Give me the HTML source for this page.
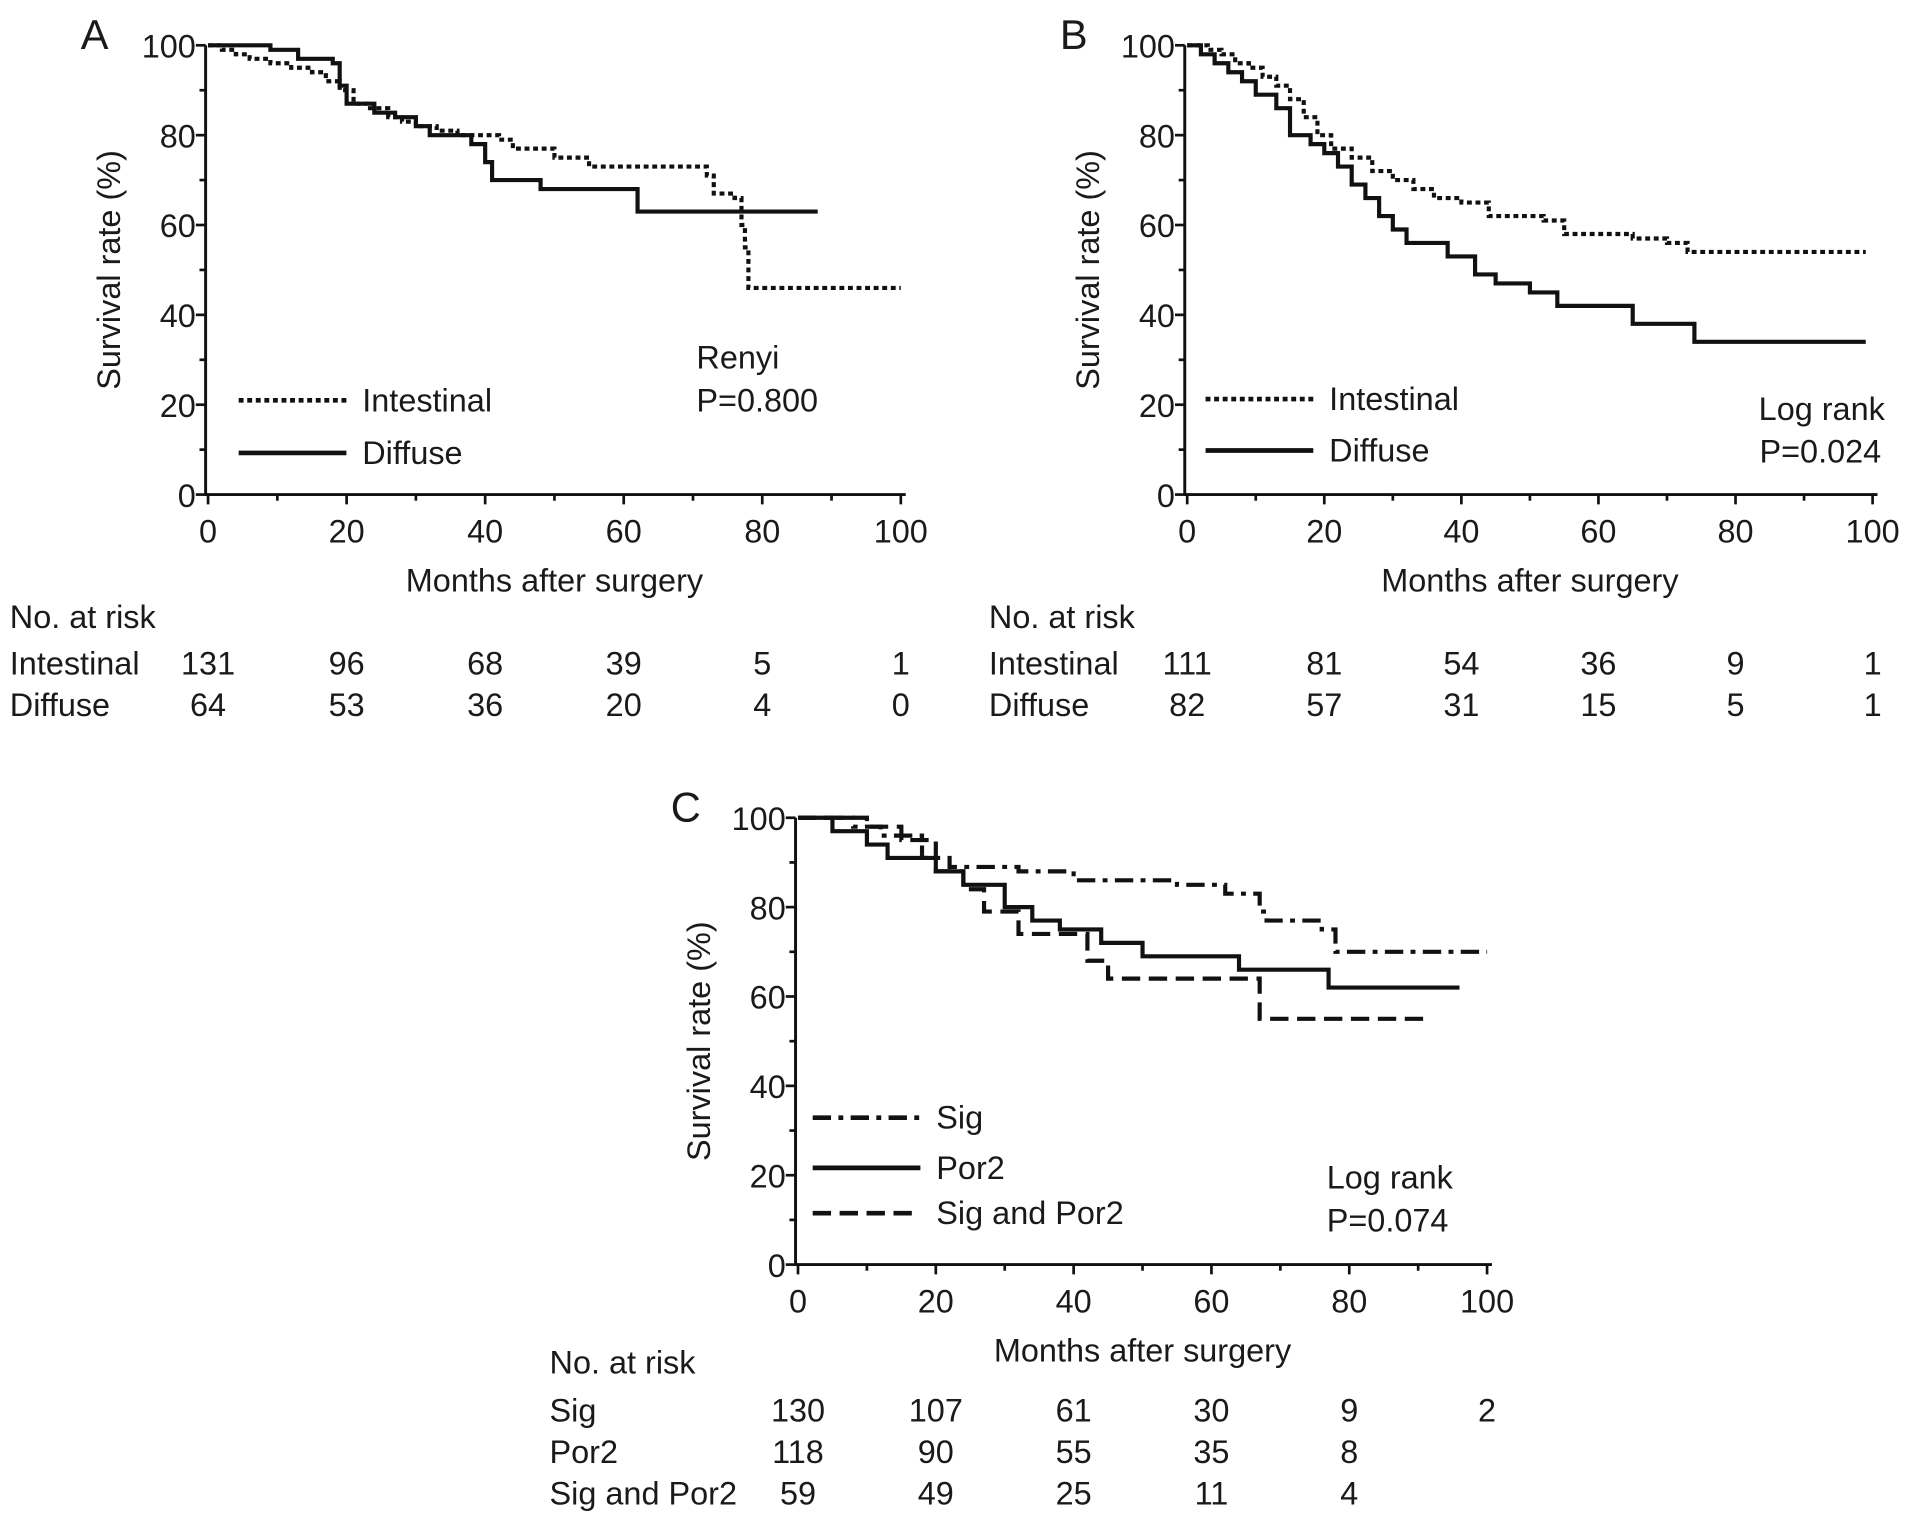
<!DOCTYPE html>
<html><head><meta charset="utf-8">
<style>
html,body{margin:0;padding:0;background:#fff;}
svg{display:block;}
text{font-family:"Liberation Sans",Arial,sans-serif;fill:#1a1a1a;}
</style></head>
<body>
<svg id="fig" width="1913" height="1518" viewBox="0 0 1563 1240" preserveAspectRatio="none" xmlns="http://www.w3.org/2000/svg"></svg>
<script>
// Panel A data
const aIntT=[0,2,4,6,9,12,15,17,19,21,23,26,28,30,33,36,42,44,48,50,55,72,73,76,77,77.5,78,100];
const aIntS=[100,99,98,97,96,95,94,92,90,87,86,84,83,82,81,80,79,77,77,75,73,71,67,66,60,55,46,46];
const aDifT=[0,9,13,18,19,20,24,27,30,32,38,40,41,48,62,88];
const aDifS=[100,99,97,96,91,87,85,84,82,80,78,74,70,68,63,63];
// Panel B data
const bIntT=[0,3,5,7,9,11,13,15,17,19,21,24,27,30,33,36,40,44,48,52,55,60,65,70,73,99];
const bIntS=[100,99,98,96,95,93,91,88,84,80,77,75,72,70,68,66,65,62,62,61,58,58,57,56,54,54];
const bDifT=[0,2,4,6,8,10,13,15,18,20,22,24,26,28,30,32,35,38,42,45,50,54,60,65,74,99];
const bDifS=[100,98,96,94,92,89,86,80,78,76,73,69,66,62,59,56,56,53,49,47,45,42,42,38,34,34];
// Panel C data
const cSigT=[0,8,12,18,22,32,40,50,55,62,67,68,76,78,100];
const cSigS=[100,98,96,91,89,88,86,86,85,83,79,77,75,70,70];
const cPorT=[0,5,10,13,20,24,30,34,38,44,50,64,77,96];
const cPorS=[100,97,94,91,88,85,80,77,75,72,69,66,62,62];
const cBothT=[0,10,15,20,24,27,32,42,45,67,91];
const cBothS=[100,98,95,88,84,79,74,68,64,55,55];
const xTicks=[0,20,40,60,80,100];
const yTicks=[0,20,40,60,80,100];
const riskA1=[131,96,68,39,5,1], riskA2=[64,53,36,20,4,0];
const riskB1=[111,81,54,36,9,1], riskB2=[82,57,31,15,5,1];
const riskC1=[130,107,61,30,9,2], riskC2=[118,90,55,35,8], riskC3=[59,49,25,11,4];

const FS=26.5;
const NS="http://www.w3.org/2000/svg";
const svg=document.getElementById('fig');
function el(tag,attrs,parent){const e=document.createElementNS(NS,tag);for(const k in attrs)e.setAttribute(k,attrs[k]);(parent||svg).appendChild(e);return e;}
function txt(s,x,y,anchor,size,parent){const t=el('text',{x:x,y:y,'text-anchor':anchor||'start','font-size':size||FS},parent);t.textContent=s;return t;}

function panel(id,x0,x1,y0,y1,letter){
  const g=el('g',{});
  
  
  const X=v=>x0+(x1-x0)*v/100, Y=v=>y0-(y0-y1)*v/100;
  const ax=el('path',{d:`M${x0-2},${Y(100)}V${y0}H${X(100)+4}`,stroke:'#111','stroke-width':2.4,fill:'none'},g);
  
  for(let v=0;v<=100;v+=10){
    const big=v%20===0;
    el('line',{x1:X(v),x2:X(v),y1:y0,y2:y0+(big?8:5),stroke:'#111','stroke-width':2.2},g);
    el('line',{x1:x0-2,x2:x0-(big?10:7),y1:Y(v),y2:Y(v),stroke:'#111','stroke-width':2.2},g);
  }
  xTicks.forEach(v=>{const t=txt(String(v),X(v),y0+39,'middle',FS,g);});
  yTicks.forEach(v=>{const t=txt(String(v),x0-10,Y(v)+10,'end',FS,g);});
  const yt=txt('Survival rate (%)',0,0,'middle',FS,g);
  yt.setAttribute('transform',`translate(${x0-72},${(y0+Y(100))/2}) rotate(-90)`);
  
  const xt=txt('Months after surgery',(X(0)+X(100))/2,y0+79,'middle',FS,g);
  
  const lt=txt(letter,x0-104,Y(100)+3,'start',34,g);
  
  return {g,X,Y};
}
function curve(p,T,S,dash,name){
  let d=`M${p.X(T[0])},${p.Y(S[0])}`;
  for(let i=1;i<T.length;i++){d+=`H${p.X(T[i])}V${p.Y(S[i])}`;}
  const c=el('path',{d:d,fill:'none',stroke:'#111','stroke-width':3.4,'stroke-dasharray':dash},p.g);
  
  
}
function legend(p,x,y,dash,label,name){
  const l=el('line',{x1:x,x2:x+88,y1:y,y2:y,stroke:'#111','stroke-width':3.8,'stroke-dasharray':dash},p.g);
  
  const t=txt(label,x+101,y+9,'start',FS,p.g);
  
}
function riskRow(p,label,lx,y,vals){
  const t=txt(label,lx,y,'start',FS,p.g);
  
  vals.forEach((v,i)=>{const n=txt(String(v),p.X(xTicks[i]),y,'middle',FS,p.g);});
}
const DOT='4 3', DASH='15 7', DD='15 6 4 6';
// A
const A=panel('a',170,736,404,37,'A');
curve(A,aIntT,aIntS,DOT,'intestinal-curve');
curve(A,aDifT,aDifS,'','diffuse-curve');
legend(A,195,327,DOT,'Intestinal','legend-intestinal');
legend(A,195,370,'','Diffuse','legend-diffuse');
txt('Renyi',569,301,'start',FS,A.g);txt('P=0.800',569,336,'start',FS,A.g);
txt('No. at risk',8,513,'start',FS,A.g);
riskRow(A,'Intestinal',8,551,riskA1);riskRow(A,'Diffuse',8,585,riskA2);
// B
const B=panel('b',970,1530,404,37,'B');
curve(B,bIntT,bIntS,DOT,'intestinal-curve');
curve(B,bDifT,bDifS,'','diffuse-curve');
legend(B,985,326,DOT,'Intestinal','legend-intestinal');
legend(B,985,368,'','Diffuse','legend-diffuse');
txt('Log rank',1540,343,'end',FS,B.g);txt('P=0.024',1537,378,'end',FS,B.g);
txt('No. at risk',808,513,'start',FS,B.g);
riskRow(B,'Intestinal',808,551,riskB1);riskRow(B,'Diffuse',808,585,riskB2);
// C
const C=panel('c',652,1215,1033,668,'C');
curve(C,cSigT,cSigS,DD,'sig-curve');
curve(C,cPorT,cPorS,'','por2-curve');
curve(C,cBothT,cBothS,DASH,'sig-and-por2-curve');
legend(C,664,913,DD,'Sig','legend-sig');
legend(C,664,954,'','Por2','legend-por2');
legend(C,664,991,DASH,'Sig and Por2','legend-sig-and-por2');
txt('Log rank',1084,971,'start',FS,C.g);txt('P=0.074',1084,1006,'start',FS,C.g);
txt('No. at risk',449,1122,'start',FS,C.g);
riskRow(C,'Sig',449,1161,riskC1);riskRow(C,'Por2',449,1195,riskC2);riskRow(C,'Sig and Por2',449,1229,riskC3);
</script>
</body></html>
